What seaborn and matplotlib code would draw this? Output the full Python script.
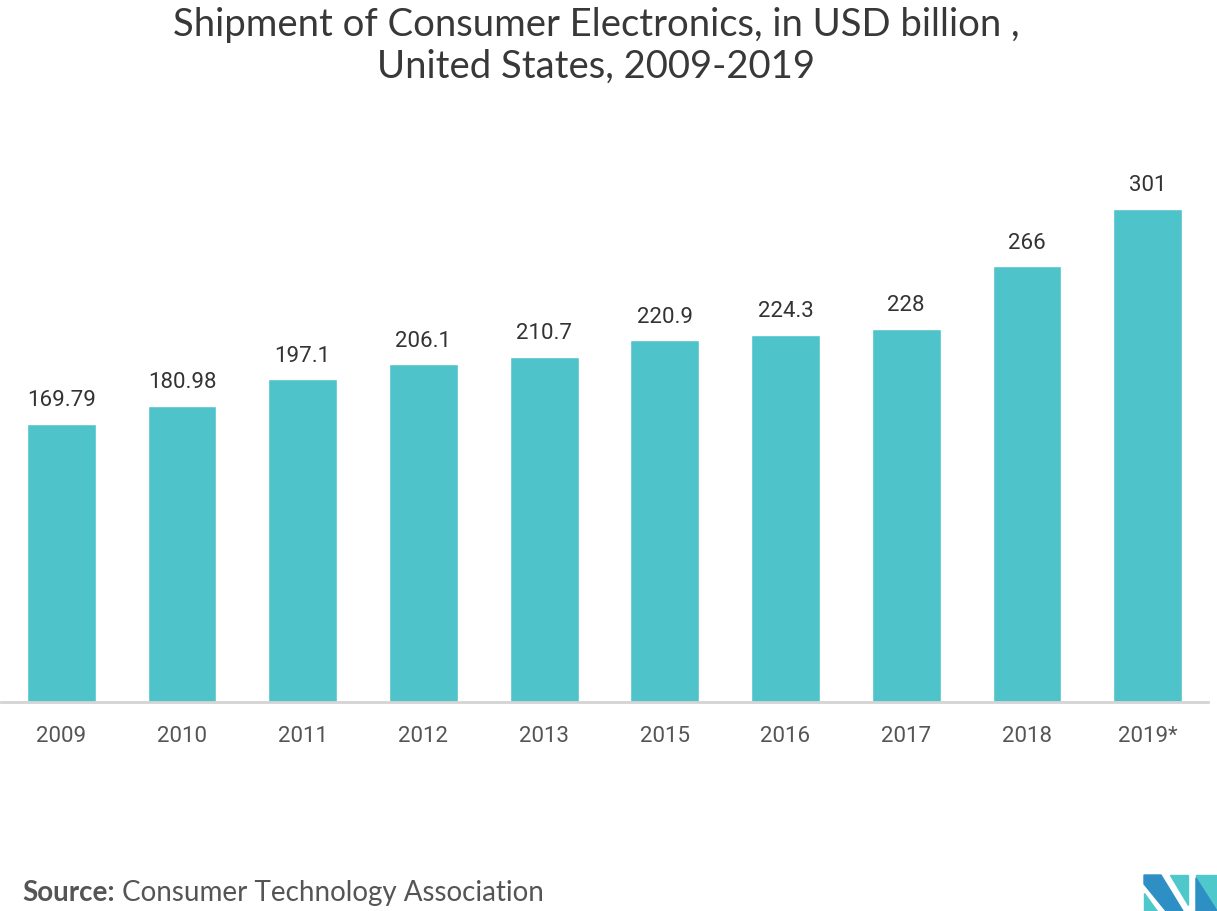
import matplotlib
matplotlib.use("Agg")
import matplotlib.pyplot as plt
from matplotlib.patches import Polygon
import pandas as pd
import seaborn as sns

# Data
years = ["2009", "2010", "2011", "2012", "2013", "2015", "2016", "2017", "2018", "2019*"]
shipments = [169.79, 180.98, 197.1, 206.1, 210.7, 220.9, 224.3, 228, 266, 301]
value_labels = ["169.79", "180.98", "197.1", "206.1", "210.7", "220.9", "224.3", "228", "266", "301"]

TITLE = "Shipment of Consumer Electronics, in USD billion ,\nUnited States, 2009-2019"
BAR_COLOR = "#4FC3CA"
TEXT_COLOR = "#383838"

sns.set_theme(style="white")
plt.rcParams['font.family'] = ['Roboto', 'DejaVu Sans']

df = pd.DataFrame({"year": years, "value": shipments})

W, H = 1217, 911
fig = plt.figure(figsize=(W / 100, H / 100), dpi=100)
ax = fig.add_axes([1 / W, 209 / H, 1207 / W, 552 / H])

sns.barplot(data=df, x="year", y="value", color=BAR_COLOR, saturation=1,
            width=0.57, ax=ax)
ax.bar_label(ax.containers[0], labels=value_labels, padding=9,
             fontsize=16, color="#333333")

ax.set_ylim(0, 337)
ax.set_xlim(-0.5, len(years) - 0.5)
ax.set_xlabel("")
ax.set_ylabel("")
ax.set_yticks([])
for side in ["top", "right", "left"]:
    ax.spines[side].set_visible(False)
ax.spines["bottom"].set_color("#d4d4d4")
ax.spines["bottom"].set_linewidth(2)
ax.tick_params(axis="x", length=0, pad=17, labelsize=16, labelcolor="#555555")

# Title and source
fig.text(596 / W, 1 - 46 / H, TITLE, ha="center", va="center", fontsize=27.5,
         color=TEXT_COLOR, family=["Lato", "DejaVu Sans"], linespacing=1.2)
src = fig.text(22 / W, 1 - 893 / H, "Source:", ha="left", va="center",
               fontsize=20, fontweight="bold", color="#555555",
               family=["Lato", "DejaVu Sans"])
fig.canvas.draw()
bb = src.get_window_extent()
fig.text((bb.x1 + 7) / W, 1 - 893 / H, "Consumer Technology Association",
         ha="left", va="center", fontsize=20, color="#555555",
         family=["Lato", "DejaVu Sans"])

# Logo (rough)
def px(pts):
    return [(x / W, 1 - y / H) for x, y in pts]

logo = [
    ([(1144, 893), (1144, 911), (1157, 911)], "#4FC8CC"),
    ([(1144, 875), (1161, 875), (1183, 911), (1166, 911), (1144, 884)], "#2E8FC4"),
    ([(1170, 875), (1188, 875), (1188, 905)], "#4FC8CC"),
    ([(1196, 875), (1217, 875), (1217, 911), (1196, 911)], "#4FC8CC"),
    ([(1196, 878), (1217, 911), (1196, 911)], "#2E8FC4"),
]
for pts, c in logo:
    fig.patches.append(Polygon(px(pts), closed=True, color=c,
                               transform=fig.transFigure, figure=fig))

fig.savefig("out.png", dpi=100)
